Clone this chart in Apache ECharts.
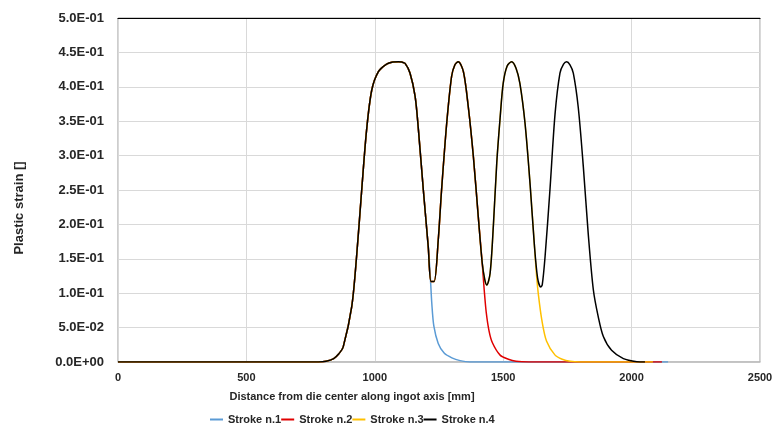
<!DOCTYPE html>
<html>
<head>
<meta charset="utf-8">
<script src="https://cdn.jsdelivr.net/npm/echarts@6/dist/echarts.min.js"></script>
<style>
html,body{margin:0;padding:0;background:#fff;}
#chart{width:777px;height:427px;}
</style>
</head>
<body>
<div id="chart"></div>
<script>
// Shared rise of the first peak (all strokes)
const commonX = [0, 500, 780, 810, 840, 860, 877, 910, 929, 949, 968, 988, 1014, 1046, 1070, 1092, 1105, 1118, 1137, 1157, 1170, 1189, 1208];
const commonY = [0, 0, 0, 0.001, 0.005, 0.012, 0.022, 0.080, 0.153, 0.250, 0.337, 0.395, 0.422, 0.433, 0.436, 0.4365, 0.436, 0.434, 0.420, 0.386, 0.337, 0.250, 0.168];
// Stroke 1 tail
const tail1X = [1216, 1222, 1230, 1247, 1270, 1300, 1332, 1370, 2142];
const tail1Y = [0.125, 0.085, 0.052, 0.027, 0.013, 0.006, 0.002, 0, 0];
// Second peak (strokes 2-4)
const peak2X = [1219, 1231, 1247, 1260, 1280, 1299, 1312, 1325, 1345, 1364, 1384, 1403, 1418];
const peak2Y = [0.117, 0.117, 0.177, 0.250, 0.347, 0.415, 0.432, 0.4365, 0.422, 0.371, 0.298, 0.211, 0.145];
// Stroke 2 tail
const tail2X = [1426, 1434, 1445, 1458, 1488, 1520, 1550, 1600, 2118];
const tail2Y = [0.105, 0.072, 0.045, 0.028, 0.010, 0.004, 0.001, 0, 0];
// Third peak (strokes 3-4)
const peak3X = [1428, 1436, 1449, 1462, 1475, 1488, 1500, 1515, 1533, 1550, 1565, 1585, 1605, 1621];
const peak3Y = [0.120, 0.112, 0.129, 0.200, 0.290, 0.355, 0.405, 0.430, 0.4365, 0.427, 0.405, 0.347, 0.257, 0.172];
// Stroke 3 tail
const tail3X = [1630, 1637, 1650, 1669, 1702, 1730, 1760, 1800, 2083];
const tail3Y = [0.125, 0.098, 0.062, 0.030, 0.010, 0.004, 0.001, 0, 0];
// Fourth peak and tail (stroke 4)
const peak4X = [1634, 1646, 1652, 1663, 1682, 1702, 1721, 1735, 1747, 1760, 1773, 1792, 1812, 1831, 1851, 1870, 1890, 1922, 1968, 2020, 2052];
const peak4Y = [0.122, 0.109, 0.112, 0.153, 0.250, 0.361, 0.420, 0.433, 0.4365, 0.432, 0.420, 0.371, 0.284, 0.187, 0.105, 0.066, 0.037, 0.017, 0.005, 0.0005, 0];

const seriesNames = ['Stroke n.1', 'Stroke n.2', 'Stroke n.3', 'Stroke n.4'];
const xTicks = [0, 500, 1000, 1500, 2000, 2500];
const yTicks = [0, 0.05, 0.1, 0.15, 0.2, 0.25, 0.3, 0.35, 0.4, 0.45, 0.5];

function pairs(xs, ys) { return xs.map((x, i) => [x, ys[i]]); }
const s1 = pairs(commonX, commonY).concat(pairs(tail1X, tail1Y));
const s2 = pairs(commonX, commonY).concat(pairs(peak2X, peak2Y), pairs(tail2X, tail2Y));
const s3 = pairs(commonX, commonY).concat(pairs(peak2X, peak2Y), pairs(peak3X, peak3Y), pairs(tail3X, tail3Y));
const s4 = pairs(commonX, commonY).concat(pairs(peak2X, peak2Y), pairs(peak3X, peak3Y), pairs(peak4X, peak4Y));
const colors = ['#5B9BD5', '#E00000', '#FFC000', '#000000'];

function fmtE(v) {
  const s = Number(v).toExponential(1);
  const parts = s.split('e');
  const sign = parts[1][0];
  const d = parts[1].slice(1).padStart(2, '0');
  return parts[0] + 'E' + sign + d;
}

const font = 'Liberation Sans, Arial, sans-serif';
const chart = echarts.init(document.getElementById('chart'), null, {renderer: 'canvas'});
chart.setOption({
  animation: false,
  color: colors,
  grid: {left: 118, right: 17, top: 18, bottom: 65, show: true, borderColor: '#9a9a9a', borderWidth: 1},
  legend: {
    data: seriesNames,
    left: 205, top: 409,
    icon: 'rect', itemWidth: 13, itemHeight: 2, itemGap: 0,
    textStyle: {fontFamily: font, fontWeight: 'bold', fontSize: 11, color: '#262626'}
  },
  xAxis: [{
    type: 'value', min: xTicks[0], max: xTicks[xTicks.length - 1], interval: 500,
    name: 'Distance from die center along ingot axis [mm]',
    nameLocation: 'middle', nameGap: 29,
    nameTextStyle: {fontFamily: font, fontWeight: 'bold', fontSize: 11, color: '#262626', padding: [0, 174, 0, 0]},
    axisLine: {show: true, lineStyle: {color: '#bfbfbf', width: 1.5}},
    axisTick: {show: false},
    axisLabel: {fontFamily: font, fontWeight: 'bold', fontSize: 11, color: '#262626', margin: 10, formatter: v => String(v)},
    splitLine: {show: true, lineStyle: {color: '#d9d9d9'}}
  }, {
    type: 'value', position: 'top', min: 0, max: 2500,
    axisLine: {show: true, lineStyle: {color: '#000', width: 1.2}},
    axisTick: {show: false}, axisLabel: {show: false}, splitLine: {show: false}
  }],
  yAxis: {
    type: 'value', min: yTicks[0], max: yTicks[yTicks.length - 1], interval: 0.05,
    name: 'Plastic strain []',
    nameLocation: 'middle', nameGap: 92,
    nameTextStyle: {fontFamily: font, fontWeight: 'bold', fontSize: 13, color: '#262626', padding: [0, 36, 0, 0]},
    axisLine: {show: true, lineStyle: {color: '#d9d9d9'}},
    axisTick: {show: false},
    axisLabel: {fontFamily: font, fontWeight: 'bold', fontSize: 13, color: '#262626', margin: 14, formatter: fmtE},
    splitLine: {show: true, lineStyle: {color: '#d9d9d9'}}
  },
  series: [s1, s2, s3, s4].map((d, i) => ({
    name: seriesNames[i], type: 'line', data: d, xAxisIndex: 0,
    showSymbol: false, symbol: 'none', smooth: 0.3,
    lineStyle: {width: 1.5, color: colors[i]}
  }))
});
</script>
</body>
</html>
